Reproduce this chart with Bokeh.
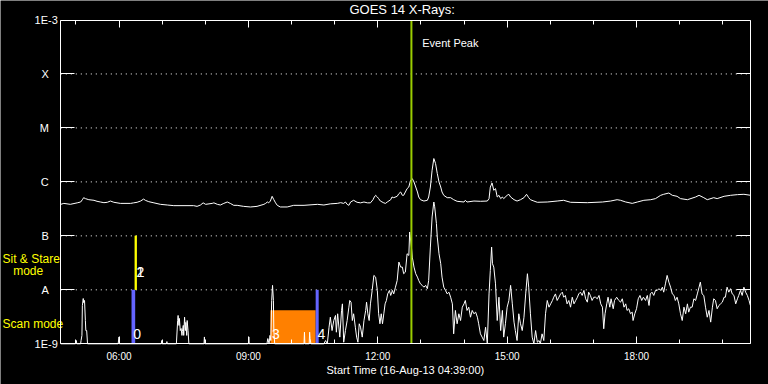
from bokeh.plotting import figure
from bokeh.models import (FixedTicker, LogAxis, LinearAxis, Range1d, Label,
                          CustomJSTickFormatter)
from bokeh.core.properties import value
from bokeh.embed import file_html
from bokeh.resources import INLINE

FONT = "Liberation Sans"

# ---------------- data (time in decimal hours UT, 16-Aug-2013; flux in W/m^2) -------------
start_hour = 4.65      # 04:39:00
end_hour = 20.65
flux_min = 1e-9
flux_max = 1e-3

# GOES 14 long channel (1-8 A)
long_channel = [
    (4.65, 3.84e-7), (4.72, 4.0e-7), (4.87, 3.84e-7), (5.03, 4.09e-7), (5.11, 4.24e-7),
    (5.15, 4.68e-7), (5.18, 5.1e-7), (5.22, 4.9e-7), (5.30, 4.68e-7), (5.42, 4.56e-7),
    (5.49, 4.37e-7), (5.57, 4.24e-7), (5.65, 4.12e-7), (5.73, 4.19e-7), (5.80, 4.42e-7),
    (5.88, 4.19e-7), (6.03, 4.0e-7), (6.27, 4.0e-7), (6.34, 4.09e-7), (6.42, 4.19e-7),
    (6.50, 4.42e-7), (6.57, 4.8e-7), (6.61, 4.56e-7), (6.69, 4.3e-7), (6.81, 4.09e-7),
    (6.96, 3.84e-7), (7.12, 3.73e-7), (7.27, 3.63e-7), (7.73, 3.63e-7), (7.81, 3.52e-7),
    (7.89, 3.73e-7), (7.95, 4.09e-7), (8.01, 3.84e-7), (8.16, 4.0e-7), (8.20, 4.09e-7),
    (8.28, 3.84e-7), (8.35, 3.73e-7), (8.43, 4.0e-7), (8.51, 4.24e-7), (8.58, 4.0e-7),
    (8.66, 3.68e-7), (8.74, 3.68e-7), (8.89, 3.52e-7), (9.05, 3.43e-7), (9.20, 3.52e-7),
    (9.36, 3.84e-7), (9.40, 4.0e-7), (9.44, 4.24e-7), (9.47, 4.09e-7), (9.51, 4.42e-7),
    (9.55, 5.41e-7), (9.59, 4.68e-7), (9.63, 4.09e-7), (9.67, 3.68e-7), (9.74, 3.43e-7),
    (9.90, 3.43e-7), (10.05, 3.68e-7), (10.29, 3.68e-7), (10.60, 3.84e-7), (10.75, 3.73e-7),
    (10.90, 3.92e-7), (11.06, 4.0e-7), (11.14, 4.12e-7), (11.21, 4.0e-7), (11.25, 4.24e-7),
    (11.29, 3.84e-7), (11.33, 3.68e-7), (11.37, 4.24e-7), (11.44, 4.56e-7), (11.52, 4.19e-7),
    (11.60, 4.09e-7), (11.68, 4.24e-7), (11.76, 4.09e-7), (11.83, 4.09e-7), (11.89, 4.68e-7),
    (11.92, 5.25e-7), (11.95, 5.64e-7), (11.99, 5.25e-7), (12.02, 4.9e-7), (12.06, 4.42e-7),
    (12.14, 4.09e-7), (12.18, 4.0e-7), (12.22, 4.24e-7), (12.30, 4.68e-7), (12.33, 5.25e-7),
    (12.37, 5.1e-7), (12.45, 5.41e-7), (12.49, 6.06e-7), (12.53, 6.5e-7), (12.57, 5.64e-7),
    (12.60, 5.64e-7), (12.68, 7.51e-7), (12.72, 8.04e-7), (12.76, 1.07e-6), (12.80, 1.15e-6),
    (12.84, 9.96e-7), (12.88, 8.04e-7), (12.92, 6.5e-7), (12.95, 5.25e-7), (12.99, 4.68e-7),
    (13.07, 4.42e-7), (13.15, 4.56e-7), (13.18, 5.25e-7), (13.22, 8.04e-7), (13.26, 1.64e-6),
    (13.30, 2.71e-6), (13.34, 2.19e-6), (13.38, 1.43e-6), (13.42, 9.96e-7), (13.46, 8.04e-7),
    (13.49, 6.5e-7), (13.53, 5.64e-7), (13.61, 5.1e-7), (13.69, 5.1e-7), (13.76, 4.68e-7),
    (13.84, 4.37e-7), (14.00, 4.24e-7), (14.03, 4.56e-7), (14.07, 4.24e-7), (14.23, 4.42e-7),
    (14.38, 4.37e-7), (14.54, 4.42e-7), (14.58, 4.9e-7), (14.61, 8.04e-7), (14.65, 9.55e-7),
    (14.69, 6.98e-7), (14.73, 7.51e-7), (14.77, 5.25e-7), (14.81, 5.64e-7), (14.85, 4.9e-7),
    (14.89, 5.25e-7), (14.92, 4.9e-7), (15.00, 5.64e-7), (15.04, 5.89e-7), (15.08, 5.25e-7),
    (15.16, 4.68e-7), (15.23, 4.42e-7), (15.31, 4.68e-7), (15.39, 5.1e-7), (15.45, 5.89e-7),
    (15.50, 5.1e-7), (15.54, 4.68e-7), (15.62, 4.42e-7), (15.70, 4.19e-7), (15.93, 4.24e-7),
    (16.16, 4.42e-7), (16.31, 4.56e-7), (16.47, 4.19e-7), (16.86, 4.12e-7), (17.21, 4.24e-7),
    (17.40, 4.42e-7), (17.55, 4.68e-7), (17.63, 4.56e-7), (17.75, 4.24e-7), (17.90, 4.0e-7),
    (18.02, 4.24e-7), (18.17, 4.56e-7), (18.33, 4.68e-7), (18.44, 4.9e-7), (18.56, 5.64e-7),
    (18.63, 5.89e-7), (18.75, 6.22e-7), (18.83, 5.64e-7), (18.94, 5.41e-7), (19.02, 4.9e-7),
    (19.18, 4.68e-7), (19.37, 5.25e-7), (19.45, 5.64e-7), (19.56, 5.1e-7), (19.64, 4.68e-7),
    (19.79, 5.1e-7), (19.87, 4.9e-7), (20.03, 5.41e-7), (20.18, 5.64e-7), (20.34, 5.81e-7),
    (20.49, 5.89e-7), (20.65, 5.64e-7),
]

# GOES 14 short channel (0.5-4 A); values at/below 1E-9 sit on the axis
short_channel = [
    (4.65, 1.0e-9), (4.99, 1.0e-9), (5.01, 1.15e-9), (5.02, 1.0e-9), (5.11, 1.0e-9),
    (5.12, 1.15e-9), (5.14, 1.43e-9), (5.15, 5.1e-9), (5.17, 6.9e-9), (5.18, 5.8e-9),
    (5.20, 6.35e-9), (5.22, 2.7e-9), (5.23, 1.76e-9), (5.25, 1.76e-9), (5.27, 1.0e-9),
    (5.98, 1.0e-9), (6.00, 1.34e-9), (6.01, 1.0e-9),
    (6.98, 1.0e-9), (6.99, 1.15e-9), (7.00, 1.0e-9), (7.10, 1.0e-9), (7.11, 1.1e-9), (7.12, 1.0e-9),
    (7.33, 1.0e-9), (7.36, 2.7e-9), (7.37, 3.35e-9), (7.39, 2.19e-9), (7.40, 2.95e-9),
    (7.42, 1.76e-9), (7.44, 1.92e-9), (7.46, 1.43e-9), (7.47, 1.69e-9), (7.49, 2.19e-9),
    (7.50, 1.43e-9), (7.52, 3.11e-9), (7.54, 1.76e-9), (7.55, 2.49e-9), (7.57, 1.43e-9),
    (7.58, 2.7e-9), (7.60, 1.76e-9), (7.62, 1.0e-9),
    (7.97, 1.0e-9), (7.98, 1.34e-9), (7.99, 1.0e-9),
    (9.00, 1.0e-9), (9.01, 1.34e-9), (9.02, 1.0e-9),
    (9.43, 1.0e-9), (9.45, 1.25e-9), (9.48, 1.0e-9), (9.50, 1.43e-9), (9.52, 1.15e-9),
    (9.54, 6.35e-9), (9.56, 1.21e-8), (9.58, 6.35e-9), (9.59, 1.76e-9), (9.61, 1.0e-9),
    (10.29, 1.0e-9), (10.30, 1.64e-9), (10.31, 1.0e-9), (10.41, 1.0e-9), (10.42, 1.64e-9),
    (10.43, 1.25e-9), (10.45, 1.0e-9),
    (10.75, 1.0e-9), (10.79, 1.15e-9), (10.83, 1.0e-9), (10.87, 2.03e-9), (10.90, 3.11e-9),
    (10.94, 1.76e-9), (10.98, 2.7e-9), (11.02, 3.35e-9), (11.04, 1.64e-9), (11.07, 3.6e-9),
    (11.12, 1.33e-9), (11.16, 4.15e-9), (11.18, 5.5e-9), (11.21, 1.07e-9), (11.25, 1.76e-9),
    (11.29, 2.7e-9), (11.33, 4.77e-9), (11.35, 6.35e-9), (11.38, 5.91e-9), (11.41, 2.7e-9),
    (11.44, 3.6e-9), (11.48, 2.03e-9), (11.51, 1.33e-9), (11.54, 1.07e-9), (11.57, 2.35e-9),
    (11.60, 2.03e-9), (11.64, 1.33e-9), (11.68, 2.7e-9), (11.72, 4.15e-9), (11.74, 5.91e-9),
    (11.77, 3.6e-9), (11.80, 2.7e-9), (11.83, 5.5e-9), (11.87, 9.75e-9), (11.91, 1.85e-8),
    (11.95, 1.72e-8), (11.99, 9.75e-9), (12.02, 3.6e-9), (12.05, 2.35e-9), (12.08, 3.6e-9),
    (12.11, 2.35e-9), (12.14, 3.6e-9), (12.17, 5.5e-9), (12.20, 6.35e-9), (12.23, 8.4e-9),
    (12.27, 9.75e-9), (12.30, 7.87e-9), (12.34, 9.75e-9), (12.37, 8.4e-9), (12.41, 1.12e-8),
    (12.45, 1.49e-8), (12.49, 3.27e-8), (12.53, 2.64e-8), (12.57, 2.64e-8), (12.60, 1.99e-8),
    (12.64, 2.13e-8), (12.68, 4.66e-8), (12.72, 4.34e-8), (12.74, 1.18e-7), (12.78, 6.2e-8),
    (12.80, 4.04e-8), (12.84, 2.64e-8), (12.88, 1.99e-8), (12.92, 1.72e-8), (12.95, 1.49e-8),
    (12.99, 1.29e-8), (13.03, 1.21e-8), (13.07, 1.12e-8), (13.11, 1.21e-8), (13.15, 1.05e-8),
    (13.18, 1.49e-8), (13.22, 6.2e-8), (13.26, 2.24e-7), (13.30, 4.24e-7), (13.32, 3.45e-7),
    (13.36, 1.69e-7), (13.38, 9.5e-8), (13.42, 4.66e-8), (13.46, 3.05e-8), (13.49, 1.72e-8),
    (13.53, 1.12e-8), (13.57, 9.75e-9), (13.61, 8.4e-9), (13.65, 9.05e-9), (13.69, 7.3e-9),
    (13.73, 5.5e-9), (13.76, 1.53e-9), (13.80, 4.15e-9), (13.84, 2.35e-9), (13.88, 3.6e-9),
    (13.92, 2.7e-9), (13.96, 4.77e-9), (14.00, 5.5e-9), (14.03, 6.35e-9), (14.07, 4.15e-9),
    (14.11, 4.77e-9), (14.15, 3.11e-9), (14.19, 4.15e-9), (14.23, 3.6e-9), (14.27, 3.86e-9),
    (14.31, 3.11e-9), (14.34, 2.35e-9), (14.38, 1.53e-9), (14.42, 1.33e-9), (14.46, 1.15e-9),
    (14.50, 2.03e-9), (14.54, 1.0e-9), (14.58, 8.4e-9), (14.61, 2.29e-8), (14.64, 6.2e-8),
    (14.66, 3.05e-8), (14.69, 2.64e-8), (14.73, 1.29e-8), (14.77, 2.7e-9), (14.81, 7.3e-9),
    (14.85, 1.76e-9), (14.89, 4.15e-9), (14.92, 1.33e-9), (14.96, 2.35e-9), (15.00, 4.77e-9),
    (15.04, 6.35e-9), (15.08, 1.21e-8), (15.12, 5.5e-9), (15.16, 2.52e-9), (15.19, 1.76e-9),
    (15.23, 1.15e-9), (15.27, 3.6e-9), (15.31, 2.35e-9), (15.35, 1.76e-9), (15.39, 3.11e-9),
    (15.43, 8.4e-9), (15.47, 1.99e-8), (15.50, 1.12e-8), (15.54, 3.6e-9), (15.58, 1.33e-9),
    (15.62, 1.0e-9), (15.66, 1.76e-9), (15.70, 1.07e-9), (15.74, 1.15e-9), (15.77, 1.0e-9),
    (15.81, 1.53e-9), (15.85, 1.15e-9), (15.89, 3.6e-9), (15.93, 6.35e-9), (15.97, 4.77e-9),
    (16.01, 5.5e-9), (16.05, 6.35e-9), (16.08, 7.3e-9), (16.12, 8.4e-9), (16.16, 6.35e-9),
    (16.20, 7.3e-9), (16.24, 8.4e-9), (16.28, 9.05e-9), (16.31, 7.3e-9), (16.35, 7.87e-9),
    (16.39, 5.5e-9), (16.43, 6.35e-9), (16.47, 4.77e-9), (16.51, 7.3e-9), (16.55, 5.5e-9),
    (16.59, 6.35e-9), (16.63, 7.3e-9), (16.66, 8.4e-9), (16.70, 9.05e-9), (16.74, 7.87e-9),
    (16.78, 9.75e-9), (16.82, 6.83e-9), (16.86, 5.91e-9), (16.89, 9.05e-9), (16.93, 7.87e-9),
    (16.97, 6.35e-9), (17.01, 7.3e-9), (17.05, 7.3e-9), (17.09, 6.83e-9), (17.13, 7.87e-9),
    (17.17, 5.5e-9), (17.21, 4.77e-9), (17.24, 1.9e-9), (17.27, 3.6e-9), (17.31, 5.5e-9),
    (17.34, 7.3e-9), (17.38, 4.77e-9), (17.41, 6.83e-9), (17.46, 4.46e-9), (17.49, 6.35e-9),
    (17.54, 7.3e-9), (17.59, 6.35e-9), (17.63, 5.91e-9), (17.67, 6.83e-9), (17.71, 4.77e-9),
    (17.75, 5.5e-9), (17.78, 4.15e-9), (17.82, 4.46e-9), (17.86, 3.6e-9), (17.90, 3.86e-9),
    (17.92, 2.7e-9), (17.96, 3.6e-9), (18.00, 4.46e-9), (18.04, 6.83e-9), (18.08, 7.87e-9),
    (18.12, 6.35e-9), (18.16, 7.3e-9), (18.21, 6.35e-9), (18.25, 7.87e-9), (18.29, 5.13e-9),
    (18.32, 8.4e-9), (18.36, 9.05e-9), (18.40, 7.87e-9), (18.44, 9.75e-9), (18.48, 9.75e-9),
    (18.52, 1.05e-8), (18.56, 9.75e-9), (18.60, 1.12e-8), (18.63, 9.05e-9), (18.67, 1.29e-8),
    (18.71, 1.85e-8), (18.75, 1.39e-8), (18.79, 1.12e-8), (18.83, 8.4e-9), (18.87, 7.87e-9),
    (18.90, 6.35e-9), (18.94, 7.3e-9), (18.98, 5.5e-9), (19.02, 3.6e-9), (19.06, 2.7e-9),
    (19.10, 4.77e-9), (19.14, 3.6e-9), (19.18, 5.5e-9), (19.21, 3.86e-9), (19.25, 4.77e-9),
    (19.29, 4.77e-9), (19.33, 6.83e-9), (19.37, 6.35e-9), (19.41, 8.4e-9), (19.45, 1.12e-8),
    (19.48, 1.39e-8), (19.52, 8.4e-9), (19.56, 7.87e-9), (19.60, 4.77e-9), (19.64, 3.11e-9),
    (19.68, 4.15e-9), (19.72, 2.52e-9), (19.76, 4.77e-9), (19.79, 6.83e-9), (19.83, 6.35e-9),
    (19.87, 4.46e-9), (19.91, 5.13e-9), (19.95, 5.5e-9), (19.99, 5.91e-9), (20.03, 7.3e-9),
    (20.06, 7.3e-9), (20.10, 1.12e-8), (20.14, 9.05e-9), (20.18, 1.05e-8), (20.22, 8.4e-9),
    (20.26, 7.87e-9), (20.30, 5.5e-9), (20.34, 6.83e-9), (20.37, 7.87e-9), (20.41, 9.75e-9),
    (20.45, 7.87e-9), (20.49, 1.12e-8), (20.53, 9.05e-9), (20.57, 7.87e-9), (20.61, 6.35e-9),
    (20.64, 5.13e-9),
]

# GOES classes on the flux axis
class_flux = [1e-9, 1e-8, 1e-7, 1e-6, 1e-5, 1e-4, 1e-3]
class_names = ["1E-9", "A", "B", "C", "M", "X", "1E-3"]

# time axis
tick_hours = [6, 9, 12, 15, 18]
tick_labels = ["06:00", "09:00", "12:00", "15:00", "18:00"]
minor_hours = list(range(5, 21))

# observations shown along the bottom
obs_label = ["0", "1", "2", "3", "4"]
obs_start = [6.29, 6.365, 6.365, 9.51, 10.56]
obs_end = [6.375, 6.41, 6.41, 10.56, 10.63]
obs_bottom = [1e-9, 1e-8, 1e-8, 1e-9, 1e-9]
obs_top = [1e-8, 1e-7, 1e-7, 4.2e-9, 1e-8]
obs_color = ["#6464ff", "#ffff00", "#ffff00", "#ff8000", "#6464ff"]
obs_label_flux = [1.55e-9, 2.13e-8, 2.13e-8, 1.55e-9, 1.55e-9]

# mode legend texts (left margin) and the flux level at which each sits
mode_texts = ["Sit & Stare", "mode", "Scan mode"]
mode_flux = [3.66e-8, 2.19e-8, 2.28e-9]

event_peak_hour = 12.78

# ---------------- layout helpers (canvas pixels <-> data, for placing the box) ------------
W, H = 768, 384
BOX_LEFT, BOX_RIGHT, BOX_TOP, BOX_BOTTOM = 60.3, 750.3, 19.5, 343.3
PX_PER_HOUR = (BOX_RIGHT - BOX_LEFT) / (end_hour - start_hour)
PX_PER_DECADE = (BOX_BOTTOM - BOX_TOP) / 6.0


def px_to_hour(px):
    return start_hour + (px - BOX_LEFT) / PX_PER_HOUR


def py_to_flux(py):
    return flux_max * 10 ** ((BOX_TOP - py) / PX_PER_DECADE)


# The frame spans the whole canvas; the data box is drawn with pinned axes,
# so margin texts are not clipped.
p = figure(width=W, height=H, output_backend="svg", toolbar_location=None,
           x_range=Range1d(px_to_hour(0), px_to_hour(W)),
           y_range=Range1d(py_to_flux(H), py_to_flux(0)),
           y_axis_type="log",
           min_border_left=0, min_border_right=0, min_border_top=0, min_border_bottom=0,
           background_fill_color="black", border_fill_color="black",
           outline_line_color=None)
p.xgrid.visible = False
p.ygrid.visible = False

NAMED_LABELS = """
let best = 0, bd = 1e9;
for (let i = 0; i < vals.length; i++) {
  const d = Math.abs(Math.log10(vals[i]) - Math.log10(tick));
  if (d < bd) { bd = d; best = i; }
}
return names[best];
"""

# left axis (class letters), pinned at the start of the data box
yax = p.yaxis[0]
yax.fixed_location = start_hour
yax.bounds = (flux_min, flux_max)
yax.ticker = FixedTicker(ticks=class_flux, minor_ticks=[])
yax.formatter = CustomJSTickFormatter(
    args=dict(vals=class_flux, names=["", "A", "B", "C", "M", "X", ""]), code=NAMED_LABELS)
yax.major_tick_in = 14
yax.major_tick_out = 0
yax.minor_tick_in = 0
yax.minor_tick_out = 0
yax.axis_line_color = "white"
yax.major_tick_line_color = "white"
yax.major_label_text_color = "white"
yax.major_label_text_font = FONT
yax.major_label_text_font_size = "11px"
yax.major_label_standoff = 12

# decade end labels (1E-9, 1E-3) sit closer to the axis
end_ax = LogAxis(ticker=FixedTicker(ticks=[class_flux[0], class_flux[-1]], minor_ticks=[]),
                 formatter=CustomJSTickFormatter(args=dict(vals=class_flux, names=class_names),
                                                 code=NAMED_LABELS),
                 fixed_location=start_hour, bounds=(flux_min, flux_max),
                 major_label_standoff=3,
                 major_tick_in=0, major_tick_out=0, minor_tick_in=0, minor_tick_out=0,
                 axis_line_color=None, major_tick_line_color=None,
                 major_label_text_color="white", major_label_text_font=FONT,
                 major_label_text_font_size="11px")
p.add_layout(end_ax, "left")

# right axis
rax = LogAxis(ticker=FixedTicker(ticks=class_flux, minor_ticks=[]),
              formatter=CustomJSTickFormatter(code="return '';"),
              fixed_location=end_hour, bounds=(flux_min, flux_max),
              major_tick_in=14, major_tick_out=0, minor_tick_in=0, minor_tick_out=0,
              major_label_standoff=0,
              axis_line_color="white", major_tick_line_color="white")
p.add_layout(rax, "right")

# bottom axis (time)
xax = p.xaxis[0]
xax.fixed_location = flux_min
xax.bounds = (start_hour, end_hour)
xax.ticker = FixedTicker(ticks=tick_hours, minor_ticks=minor_hours)
xax.major_label_overrides = {h: lab for h, lab in zip(tick_hours, tick_labels)}
xax.major_tick_in = 7
xax.major_tick_out = 0
xax.minor_tick_in = 4
xax.minor_tick_out = 0
xax.axis_line_color = "white"
xax.major_tick_line_color = "white"
xax.minor_tick_line_color = "white"
xax.major_label_text_color = "white"
xax.major_label_text_font = FONT
xax.major_label_text_font_size = "10px"
xax.major_label_standoff = 7
xax.axis_label = "Start Time (16-Aug-13 04:39:00)"
xax.axis_label_text_color = "white"
xax.axis_label_text_font = FONT
xax.axis_label_text_font_size = "11px"
xax.axis_label_text_font_style = "normal"
xax.axis_label_standoff = -1

# top axis
tax = LinearAxis(ticker=FixedTicker(ticks=tick_hours, minor_ticks=minor_hours),
                 formatter=CustomJSTickFormatter(code="return '';"),
                 fixed_location=flux_max, bounds=(start_hour, end_hour),
                 major_tick_in=7, major_tick_out=0, minor_tick_in=4, minor_tick_out=0,
                 major_label_standoff=0,
                 axis_line_color="white", major_tick_line_color="white",
                 minor_tick_line_color="white")
p.add_layout(tax, "above")

# dotted class-level lines across the data box
grid_levels = class_flux[1:-1]
p.segment(x0=[start_hour] * len(grid_levels), x1=[end_hour] * len(grid_levels),
          y0=grid_levels, y1=grid_levels, line_color="white", line_width=1, line_dash="1 4")

# observation bars
p.quad(left=obs_start, right=obs_end, bottom=obs_bottom, top=obs_top,
       fill_color=obs_color, line_color=None)

# curves
long_t = [t for t, f in long_channel]
long_f = [f for t, f in long_channel]
short_t = [t for t, f in short_channel]
short_f = [f for t, f in short_channel]
p.line(long_t, long_f, line_color="white", line_width=1)
p.line(short_t, short_f, line_color="white", line_width=1)

# observation numbers
p.text(x=[s + 0.04 for s in obs_start], y=obs_label_flux, text=obs_label,
       text_color="white", text_font=value(FONT), text_font_size="14px",
       text_baseline="middle", text_align="left")

# mode legends in the left margin
p.text(x=[px_to_hour(px) for px in (2, 12.7, 2)], y=mode_flux, text=mode_texts,
       text_color="#ffff00", text_font=value(FONT), text_font_size="12px",
       text_baseline="middle", text_align="left")

# event peak marker
p.segment(x0=[event_peak_hour], x1=[event_peak_hour], y0=[flux_min], y1=[flux_max],
          line_color="#9acd00", line_width=2)
p.add_layout(Label(x=px_to_hour(421.7), y=py_to_flux(42.5), text="Event Peak",
                   text_color="white", text_font=FONT, text_font_size="11px",
                   text_baseline="middle", text_align="left"))

# title
p.add_layout(Label(x=px_to_hour(401.7), y=py_to_flux(9), text="GOES 14 X-Rays:",
                   text_color="white", text_font=FONT, text_font_size="13px",
                   text_baseline="middle", text_align="center"))

open("out.html", "w").write(file_html(p, INLINE))
